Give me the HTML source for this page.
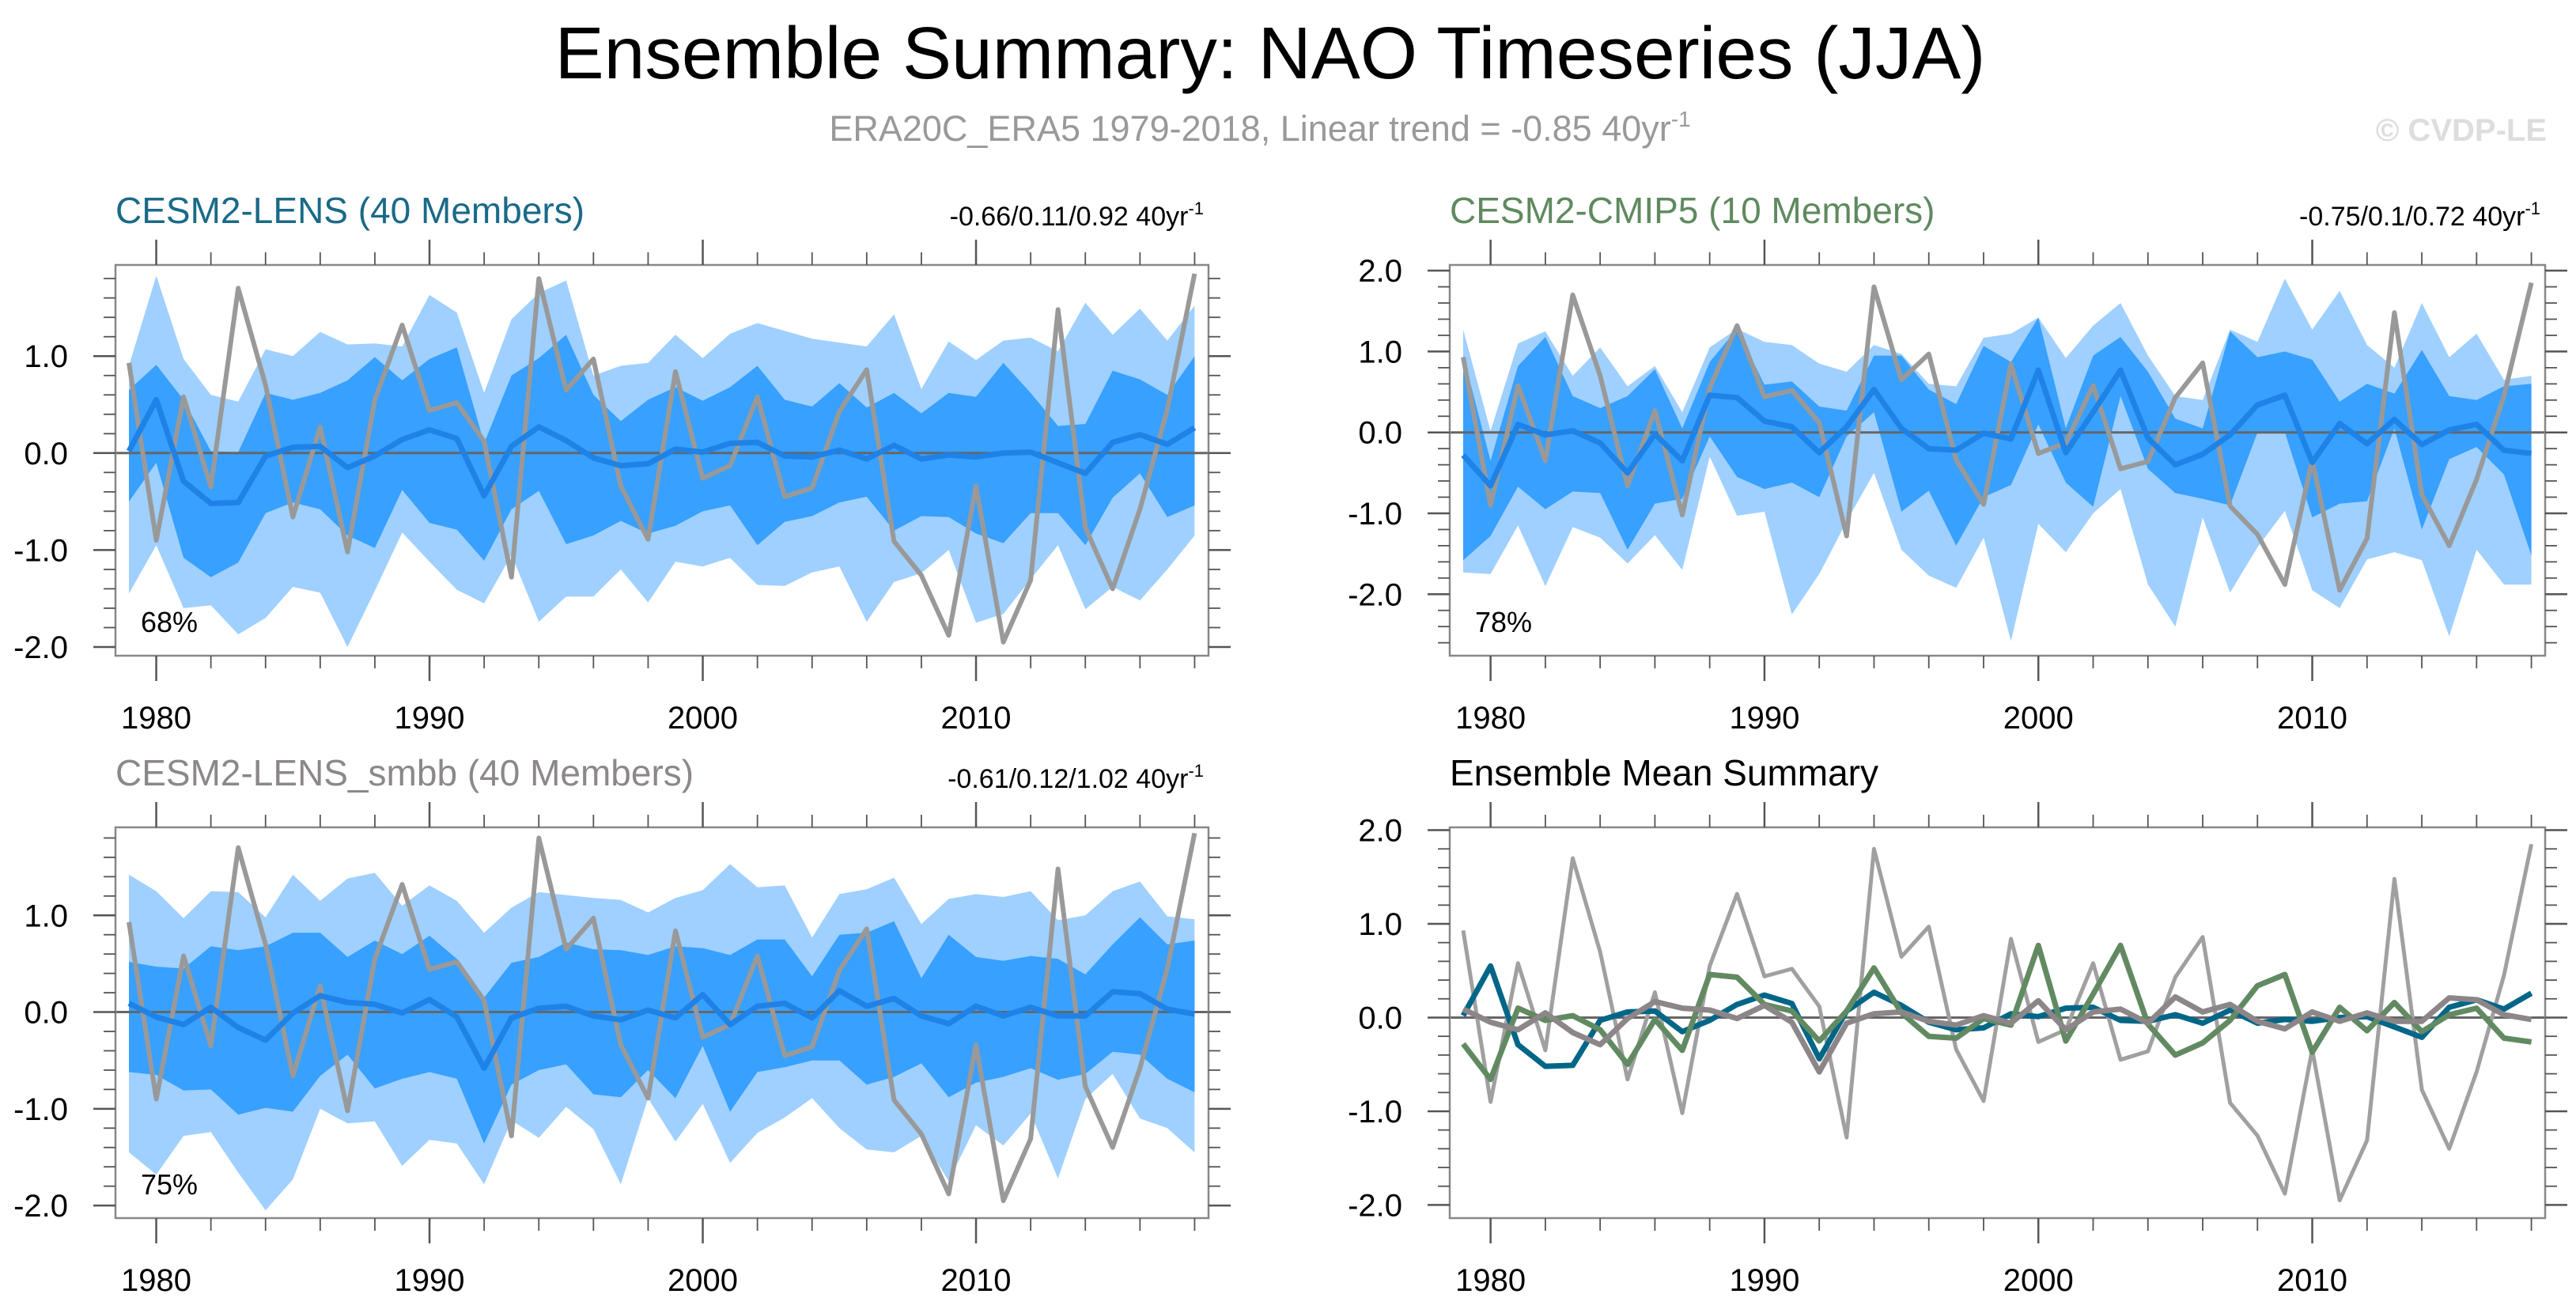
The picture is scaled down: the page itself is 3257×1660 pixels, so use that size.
<!DOCTYPE html>
<html><head><meta charset="utf-8">
<style>
html,body{margin:0;padding:0;background:#fff;}
svg{display:block;font-family:"Liberation Sans",Arial,sans-serif;}
</style></head>
<body>
<svg id="fig" width="3257" height="1660" viewBox="0 0 3257 1660" xmlns="http://www.w3.org/2000/svg">
<text x="1606" y="99" font-size="93" text-anchor="middle" fill="#000">Ensemble Summary: NAO Timeseries (JJA)</text>
<text x="1593" y="178" font-size="45" text-anchor="middle" fill="#999">ERA20C_ERA5 1979-2018, Linear trend = -0.85 40yr<tspan dy="-18" font-size="28">-1</tspan></text>
<text x="3220" y="178" font-size="40" font-weight="bold" text-anchor="end" fill="#ddd">© CVDP-LE</text>
<g id="panels"></g>
</svg>
<script>
const years = [];
for (let y = 1979; y <= 2018; y++) years.push(y);
const obs = [0.93,-0.90,0.58,-0.35,1.70,0.70,-0.66,0.27,-1.02,0.55,1.32,0.44,0.52,0.12,-1.28,1.80,0.65,0.97,-0.34,-0.89,0.84,-0.26,-0.13,0.58,-0.45,-0.36,0.43,0.86,-0.91,-1.26,-1.88,-0.34,-1.95,-1.31,1.48,-0.77,-1.40,-0.58,0.45,1.85];
// Panel 1: CESM2-LENS
const p1Mean = [0.02,0.55,-0.29,-0.52,-0.51,-0.03,0.06,0.07,-0.15,-0.03,0.14,0.24,0.15,-0.44,0.07,0.27,0.13,-0.05,-0.13,-0.11,0.04,0.01,0.10,0.11,-0.03,-0.04,0.03,-0.06,0.08,-0.06,-0.02,-0.04,0.00,0.01,-0.10,-0.21,0.11,0.19,0.09,0.26];
const p1InHi = [0.65,0.91,0.55,0.02,0.01,0.62,0.55,0.62,0.75,0.99,0.75,0.97,1.09,0.10,0.80,0.98,1.22,0.60,0.33,0.55,0.68,0.54,0.68,0.90,0.55,0.48,0.72,0.47,0.62,0.41,0.62,0.58,0.93,0.62,0.28,0.30,0.85,0.76,0.60,1.00];
const p1InLo = [-0.50,-0.10,-1.08,-1.28,-1.13,-0.62,-0.51,-0.58,-0.85,-0.98,-0.38,-0.72,-0.79,-1.11,-0.58,-0.39,-0.94,-0.85,-0.70,-0.83,-0.75,-0.60,-0.54,-0.95,-0.71,-0.65,-0.51,-0.45,-0.80,-0.65,-0.66,-0.83,-0.93,-0.62,-0.62,-0.95,-0.46,-0.21,-0.66,-0.54];
const p1OutHi = [0.90,1.83,0.97,0.60,0.53,1.07,1.00,1.25,1.12,1.13,1.10,1.63,1.45,0.62,1.38,1.65,1.78,0.80,0.90,0.93,1.22,0.98,1.23,1.34,1.26,1.18,1.14,1.10,1.43,0.66,1.15,0.96,1.16,1.19,1.05,1.55,1.22,1.49,1.16,1.52];
const p1OutLo = [-1.45,-0.95,-1.60,-1.57,-1.87,-1.70,-1.38,-1.44,-2.00,-1.42,-0.82,-1.12,-1.41,-1.55,-1.05,-1.74,-1.48,-1.48,-1.20,-1.54,-1.12,-1.17,-1.08,-1.36,-1.37,-1.23,-1.17,-1.74,-1.33,-1.24,-1.00,-1.75,-1.66,-1.30,-0.95,-1.61,-1.38,-1.52,-1.20,-0.85];
// Panel 2: CESM2-CMIP5
const p2Mean = [-0.28,-0.66,0.10,-0.03,0.02,-0.13,-0.50,-0.02,-0.35,0.46,0.43,0.14,0.07,-0.25,0.07,0.53,0.05,-0.20,-0.22,-0.01,-0.08,0.77,-0.25,0.25,0.77,-0.07,-0.40,-0.27,-0.03,0.34,0.46,-0.37,0.11,-0.14,0.16,-0.15,0.03,0.10,-0.22,-0.26];
const p2InHi = [0.95,-0.35,0.82,1.18,0.45,0.30,0.45,0.78,0.05,0.87,1.28,0.59,0.63,0.32,0.27,0.95,0.95,0.53,0.35,1.07,0.87,1.42,0.05,0.95,1.18,0.75,0.17,0.05,1.25,0.93,1.00,0.90,0.38,0.60,0.48,1.02,0.45,0.40,0.57,0.60];
const p2InLo = [-1.58,-1.28,-0.67,-0.95,-0.73,-0.75,-1.45,-0.88,-0.82,-0.05,-0.55,-0.70,-0.62,-0.80,-0.05,0.25,-0.98,-0.72,-1.40,-0.80,-0.65,0.10,-0.62,-0.92,0.45,-0.45,-0.75,-0.82,-0.90,0.00,0.00,-1.05,-0.88,-0.85,0.05,-1.20,-0.33,-0.18,-0.52,-1.52];
const p2OutHi = [1.27,0.02,1.10,1.25,0.70,1.05,0.57,0.82,0.25,1.05,1.28,1.12,1.08,0.85,0.75,1.08,0.97,0.60,0.57,1.17,1.22,1.42,0.92,1.32,1.60,0.95,0.45,0.40,1.27,1.12,1.90,1.27,1.75,1.08,0.80,1.60,0.93,1.22,0.65,0.70];
const p2OutLo = [-1.73,-1.75,-1.15,-1.90,-1.17,-1.30,-1.62,-1.27,-1.70,-0.30,-1.03,-0.98,-2.25,-1.75,-1.10,-0.50,-1.45,-1.77,-1.92,-1.30,-2.58,-1.13,-1.48,-1.00,-0.70,-1.88,-2.40,-1.05,-1.98,-1.42,-0.97,-1.95,-2.17,-1.57,-1.48,-1.58,-2.52,-1.45,-1.88,-1.88];
// Panel 3: CESM2-LENS_smbb
const p3Mean = [0.09,-0.05,-0.13,0.05,-0.16,-0.29,-0.01,0.17,0.10,0.08,-0.01,0.13,-0.05,-0.58,-0.06,0.04,0.06,-0.04,-0.08,0.02,-0.06,0.18,-0.13,0.06,0.09,-0.06,0.22,0.06,0.14,-0.04,-0.12,0.06,-0.04,0.05,-0.04,-0.04,0.21,0.19,0.03,-0.02];
const p3InHi = [0.52,0.47,0.45,0.68,0.64,0.68,0.82,0.82,0.57,0.74,0.60,0.79,0.55,0.15,0.51,0.57,0.72,0.65,0.64,0.59,0.68,0.66,0.59,0.75,0.75,0.37,0.80,0.82,0.94,0.35,0.80,0.57,0.53,0.58,0.55,0.39,0.70,0.98,0.70,0.74];
const p3InLo = [-0.62,-0.65,-0.81,-0.80,-1.06,-0.99,-1.03,-0.66,-0.44,-0.79,-0.69,-0.62,-0.69,-1.36,-0.75,-0.60,-0.54,-0.85,-0.88,-0.60,-0.89,-0.35,-1.03,-0.62,-0.57,-0.50,-0.50,-0.75,-0.67,-0.53,-0.88,-0.73,-0.67,-0.58,-0.70,-0.64,-0.41,-0.44,-0.69,-0.83];
const p3OutHi = [1.42,1.25,0.97,1.25,1.24,0.98,1.42,1.15,1.38,1.44,1.10,1.31,1.15,0.82,1.08,1.24,1.21,1.18,1.16,1.03,1.18,1.26,1.53,1.29,1.31,0.77,1.22,1.27,1.39,0.91,1.17,1.22,1.19,1.25,0.95,1.00,1.25,1.35,0.99,0.96];
const p3OutLo = [-1.45,-1.68,-1.28,-1.24,-1.66,-2.05,-1.73,-1.00,-1.15,-1.13,-1.59,-1.32,-1.36,-1.78,-1.12,-1.30,-0.98,-1.21,-1.78,-0.89,-1.34,-0.95,-1.56,-1.25,-1.09,-0.89,-1.20,-1.42,-1.45,-1.28,-1.75,-1.17,-1.38,-1.05,-1.72,-0.90,-0.64,-1.10,-1.20,-1.45];
const yTickVals = [-2, -1, 0, 1, 2];
const yTickLabels = ["-2.0", "-1.0", "0.0", "1.0", "2.0"];
const xTickVals = [1980, 1990, 2000, 2010];
const xTickLabels = ["1980", "1990", "2000", "2010"];

const NS = "http://www.w3.org/2000/svg";
const root = document.getElementById('panels');
function mk(tag, attrs, parent) {
  const e = document.createElementNS(NS, tag);
  for (const k in attrs) e.setAttribute(k, attrs[k]);
  parent.appendChild(e);
  return e;
}

function makePanel(cfg) {
  const g = mk('g', {}, root);
  
  
  const L = cfg.x0, R = cfg.x1;
  const sx = v => cfg.xa + (v - 1979) * cfg.xs;
  const sy = v => cfg.yb - (v - cfg.ymin) / (cfg.ymax - cfg.ymin) * (cfg.yb - cfg.yt);
  function band(hi, lo, color, nm) {
    let d = '';
    years.forEach((yr, i) => { d += (i ? 'L' : 'M') + sx(yr).toFixed(1) + ' ' + sy(hi[i]).toFixed(1); });
    for (let i = years.length - 1; i >= 0; i--) d += 'L' + sx(years[i]).toFixed(1) + ' ' + sy(lo[i]).toFixed(1);
    const p = mk('path', {d: d + 'Z', fill: color}, g);
    
    
  }
  function line(vals, color, w, nm) {
    let d = '';
    years.forEach((yr, i) => { d += (i ? 'L' : 'M') + sx(yr).toFixed(1) + ' ' + sy(vals[i]).toFixed(1); });
    const p = mk('path', {d: d, fill: 'none', stroke: color, 'stroke-width': w, 'stroke-linejoin': 'round'}, g);
    
    
  }
  if (cfg.outHi) {
    band(cfg.outHi, cfg.outLo, '#9fd0ff', 'outer-range-band');
    band(cfg.inHi, cfg.inLo, '#38a0ff', 'inner-range-band');
  }
  const zl = mk('line', {x1: L, x2: R, y1: sy(0), y2: sy(0), stroke: '#666', 'stroke-width': 3}, g);
  
  
  cfg.lines.forEach(l => line(l.v, l.c, l.w, l.n));
  const fr = mk('rect', {x: L, y: cfg.yt, width: R - L, height: cfg.yb - cfg.yt, fill: 'none', stroke: '#888', 'stroke-width': 2.5}, g);
  
  
  for (let yr = 1980; yr <= 2018; yr += 2) {
    const maj = yr % 10 === 0;
    const len = maj ? 32 : 16;
    const x = sx(yr);
    mk('line', {x1: x, x2: x, y1: cfg.yt, y2: cfg.yt - len, stroke: '#555', 'stroke-width': maj ? 2.5 : 1.8}, g);
    mk('line', {x1: x, x2: x, y1: cfg.yb, y2: cfg.yb + len, stroke: '#555', 'stroke-width': maj ? 2.5 : 1.8}, g);
  }
  xTickVals.forEach((v, i) => {
    const t = mk('text', {x: sx(v), y: cfg.yb + 92, 'font-size': 40, 'text-anchor': 'middle', fill: '#000'}, g);
    t.textContent = xTickLabels[i];
    
    
  });
  for (let k = Math.ceil(cfg.ymin * 5); k <= Math.floor(cfg.ymax * 5); k++) {
    const v = k / 5;
    const maj = k % 5 === 0;
    const len = maj ? 28 : 15;
    const y = sy(v);
    mk('line', {x1: L, x2: L - len, y1: y, y2: y, stroke: '#555', 'stroke-width': maj ? 2.5 : 1.8}, g);
    mk('line', {x1: R, x2: R + len, y1: y, y2: y, stroke: '#555', 'stroke-width': maj ? 2.5 : 1.8}, g);
  }
  yTickVals.forEach((v, i) => {
    if (v < cfg.ymin || v > cfg.ymax) return;
    const t = mk('text', {x: L - 60, y: sy(v) + 14, 'font-size': 40, 'text-anchor': 'end', fill: '#000'}, g);
    t.textContent = yTickLabels[i];
    
    
  });
  const tt = mk('text', {x: L, y: cfg.yt - 53, 'font-size': 46, fill: cfg.tcol}, g);
  tt.textContent = cfg.title;
  
  
  if (cfg.trend) {
    const tr = mk('text', {x: R - 6, y: cfg.yt - 50, 'font-size': 34, 'text-anchor': 'end', fill: '#000'}, g);
    tr.textContent = cfg.trend + ' 40yr';
    const sup = mk('tspan', {dy: -14, 'font-size': 22}, tr);
    sup.textContent = '-1';
    
    
  }
  if (cfg.pct) {
    const pc = mk('text', {x: L + 32, y: cfg.yb - 30, 'font-size': 36, fill: '#000'}, g);
    pc.textContent = cfg.pct;
    
    
  }
}

makePanel({name: 'panel-cesm2-lens', x0: 146, x1: 1528, yt: 335, yb: 829, ymin: -2.09, ymax: 1.94, xa: 163, xs: 34.55,
  outHi: p1OutHi, outLo: p1OutLo, inHi: p1InHi, inLo: p1InLo,
  lines: [{v: obs, c: '#999', w: 6, n: 'obs-line'}, {v: p1Mean, c: '#1e82e6', w: 7, n: 'ensemble-mean-line'}],
  title: 'CESM2-LENS (40 Members)', tcol: '#1a6a88', trend: '-0.66/0.11/0.92', pct: '68%'});
makePanel({name: 'panel-cesm2-cmip5', x0: 1833, x1: 3218, yt: 335, yb: 829, ymin: -2.76, ymax: 2.07, xa: 1850, xs: 34.63,
  outHi: p2OutHi, outLo: p2OutLo, inHi: p2InHi, inLo: p2InLo,
  lines: [{v: obs, c: '#999', w: 6, n: 'obs-line'}, {v: p2Mean, c: '#1e82e6', w: 7, n: 'ensemble-mean-line'}],
  title: 'CESM2-CMIP5 (10 Members)', tcol: '#5f8a5f', trend: '-0.75/0.1/0.72', pct: '78%'});
makePanel({name: 'panel-cesm2-lens-smbb', x0: 146, x1: 1528, yt: 1046, yb: 1540, ymin: -2.13, ymax: 1.91, xa: 163, xs: 34.55,
  outHi: p3OutHi, outLo: p3OutLo, inHi: p3InHi, inLo: p3InLo,
  lines: [{v: obs, c: '#999', w: 6, n: 'obs-line'}, {v: p3Mean, c: '#1e82e6', w: 7, n: 'ensemble-mean-line'}],
  title: 'CESM2-LENS_smbb (40 Members)', tcol: '#8c8888', trend: '-0.61/0.12/1.02', pct: '75%'});
makePanel({name: 'panel-ensemble-mean-summary', x0: 1833, x1: 3218, yt: 1046, yb: 1540, ymin: -2.14, ymax: 2.03, xa: 1850, xs: 34.63,
  lines: [{v: obs, c: '#a0a0a0', w: 5, n: 'obs-line'}, {v: p1Mean, c: '#006688', w: 7, n: 'cesm2-lens-mean-line'},
          {v: p2Mean, c: '#628a62', w: 7, n: 'cesm2-cmip5-mean-line'}, {v: p3Mean, c: '#8c8688', w: 7, n: 'cesm2-lens-smbb-mean-line'}],
  title: 'Ensemble Mean Summary', tcol: '#000'});
</script>
</body></html>
